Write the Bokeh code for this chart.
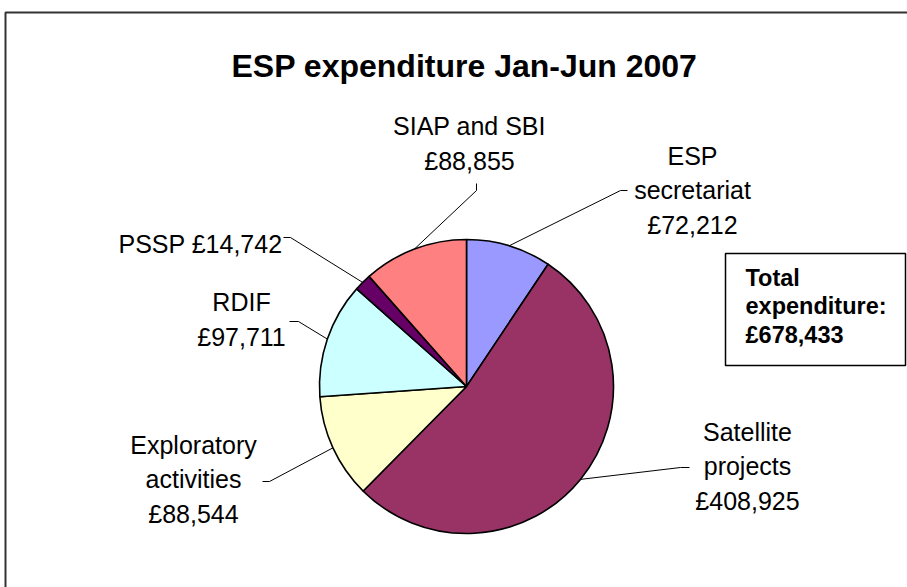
import math
from bokeh.plotting import figure
from bokeh.models import Range1d, ColumnDataSource
from bokeh.core.properties import value
from bokeh.embed import file_html
from bokeh.resources import INLINE

# ---- data ----
categories = ["ESP\nsecretariat", "Satellite\nprojects", "Exploratory\nactivities",
              "RDIF", "PSSP", "SIAP and SBI"]
separators = ["\n", "\n", "\n", "\n", " ", "\n"]
values = [72212, 408925, 88544, 97711, 14742, 88855]
colors = ["#9999FF", "#993366", "#FFFFCC", "#CCFFFF", "#660066", "#FF8080"]
title_text = "ESP expenditure Jan-Jun 2007"
total_text = "Total\nexpenditure:\n£678,433"

# ---- layout (pixel positions, top-left origin) ----
W, H = 907, 587
cx, cy, R = 466, 386, 147
label_x = [692, 747, 193, 241, 282, 469]
label_y = [190, 466, 479, 319, 243, 143]
label_align = ["center", "center", "center", "center", "right", "center"]
label_base = ["middle", "middle", "middle", "middle", "alphabetic", "middle"]
elbow = [(620, 190), (680, 467), (269, 481), (298, 321), (290, 237), (476, 190)]
tick_end = [(627, 190), (689, 467), (262, 481), (289, 321), (283, 237), (476, 183)]


def fy(y):
    return H - y


p = figure(width=W, height=H, x_range=Range1d(0, W), y_range=Range1d(0, H),
           output_backend="svg", toolbar_location=None, min_border=0)
p.axis.visible = False
p.grid.visible = False
p.outline_line_color = None
p.background_fill_color = "white"
p.border_fill_color = "white"

# outer chart border
p.quad(left=[5], right=[W + 20], top=[fy(12)], bottom=[fy(H + 20)],
       fill_color=None, line_color="#333333", line_width=2)

# pie
total = sum(values)
starts, ends, mids = [], [], []
acc = 0.0
for v in values:
    s = acc / total
    acc += v
    e = acc / total
    starts.append(math.pi / 2 - 2 * math.pi * e)
    ends.append(math.pi / 2 - 2 * math.pi * s)
    mids.append(2 * math.pi * (s + e) / 2)

src = ColumnDataSource(dict(start=starts, end=ends, color=colors))
p.wedge(x=cx, y=fy(cy), radius=R, radius_units="screen", start_angle="start",
        end_angle="end", fill_color="color", line_color="black", line_width=1.6,
        source=src)

# leader lines
xs, ys = [], []
for i, m in enumerate(mids):
    ex = cx + R * math.sin(m)
    ey = cy - R * math.cos(m)
    xs.append([ex, elbow[i][0], tick_end[i][0]])
    ys.append([fy(ey), fy(elbow[i][1]), fy(tick_end[i][1])])
p.multi_line(xs=xs, ys=ys, line_color="black", line_width=1)

# labels
for i in range(len(values)):
    txt = categories[i] + separators[i] + "£{:,}".format(values[i])
    p.text(x=[label_x[i]], y=[fy(label_y[i])], text=[txt],
           text_font=value("Liberation Sans"), text_font_size="25px",
           text_align=label_align[i], text_baseline=label_base[i],
           text_line_height=1.22, text_color="black")

# title
p.text(x=[464], y=[fy(65)], text=[title_text], text_font=value("Liberation Sans"),
       text_font_size="32px", text_font_style="bold", text_align="center",
       text_baseline="alphabetic", text_color="black")

# total box
p.quad(left=[725], right=[905], top=[fy(253)], bottom=[fy(365)],
       fill_color="white", line_color="black", line_width=1.5)
p.text(x=[745], y=[fy(306)], text=[total_text], text_font=value("Liberation Sans"),
       text_font_size="23.5px", text_font_style="bold", text_align="left",
       text_baseline="middle", text_line_height=1.08, text_color="black")

open("out.html", "w").write(file_html(p, INLINE))
